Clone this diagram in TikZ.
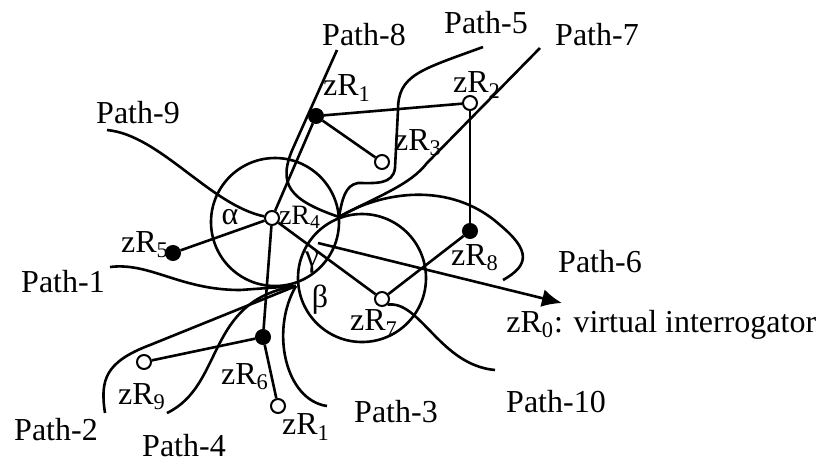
\documentclass[tikz,border=0pt]{standalone}
\usepackage{fontspec}
\setmainfont{Liberation Serif}
\usetikzlibrary{arrows.meta}
\begin{document}
\begin{tikzpicture}[x=0.5pt, y=-0.5pt, line width=1.3pt,
    tag/.style={circle, draw, fill=white, inner sep=0pt, minimum size=7pt, line width=1pt},
    tagf/.style={tag, fill=black},
    lbl/.style={font=\fontsize{16}{18}\selectfont, inner sep=1pt},
    zone/.style={circle, draw, inner sep=0pt, minimum size=64pt}]
    \useasboundingbox (0,0) rectangle (825,463);

    % Zones
    \node[zone] (ca) at (275,222) {};
    \node[zone] (cb) at (362,278) {};
    \node[lbl] (la) at (230,217) {α};
    \node[lbl] (lg) at (312,263) {γ};
    \node[lbl] (lb) at (320,300) {β};

    % Tags
    \node[tagf] (r1) at (316,116) {};
    \node[tag] (r2) at (470,103) {};
    \node[tag] (r3) at (382,162) {};
    \node[tag] (r4) at (272,218) {};
    \node[tagf] (r5) at (173,253) {};
    \node[tagf] (r6) at (263,337) {};
    \node[tag] (r7) at (382,299) {};
    \node[tagf] (r8) at (470,231) {};
    \node[tag] (r9) at (144,362) {};
    \node[tag] (r1b) at (278,406) {};

    % Tag names
    \node[lbl] (t1) at (347,88) {zR\textsubscript{1}};
    \node[lbl] (t2) at (477,85) {zR\textsubscript{2}};
    \node[lbl] (t3) at (418,143) {zR\textsubscript{3}};
    \node[lbl, font=\fontsize{14}{16}\selectfont] (t4) at (300,217) {zR\textsubscript{4}};
    \node[lbl] (t5) at (145,245) {zR\textsubscript{5}};
    \node[lbl] (t6) at (245,377) {zR\textsubscript{6}};
    \node[lbl] (t7) at (374,323) {zR\textsubscript{7}};
    \node[lbl] (t8) at (475,258) {zR\textsubscript{8}};
    \node[lbl] (t9) at (142,397) {zR\textsubscript{9}};
    \node[lbl] (t1b) at (306,427) {zR\textsubscript{1}};
    \node[lbl, anchor=west] (t0) at (503,325) {zR\textsubscript{0}: virtual interrogator};

    % Links
    \draw (r1) -- (r2);
    \draw (r1) -- (r3);
    \draw (r1) -- (r4);
    \draw (r2) -- (r8);
    \draw (r8) -- (r7);
    \draw (r4) -- (r7);
    \draw (r4) -- (r5);
    \draw (r4) -- (r6);
    \draw (r6) -- (r9);
    \draw (r6) -- (r1b);

    % Meeting points of the paths
    \coordinate (top) at (339,217);
    \coordinate (bot) at (296,286);

    % Path ends
    \coordinate (e1) at (110,267);
    \coordinate (e2) at (105,413);
    \coordinate (e3) at (327,406);
    \coordinate (e4) at (167,413);
    \coordinate (e5) at (483,47);
    \coordinate (e6) at (503,280);
    \coordinate (e7) at (540,48);
    \coordinate (e8) at (337,50);
    \coordinate (e9) at (107,130);
    \coordinate (e10) at (495,370);

    % Paths
    \draw (e8) -- (294,146) .. controls (276,185) and (290,200) .. (top);
    \draw (e5) .. controls (420,70) and (398,75) .. (398,110) -- (395,168)
        .. controls (393,185) and (375,183) .. (358,183) .. controls (345,185) and (342,200) .. (top);
    \draw (e7) -- (427,163) .. controls (410,185) and (380,195) .. (top);
    \draw (top) .. controls (380,192) and (450,180) .. (500,225) .. controls (530,250) and (530,265) .. (e6);
    \draw (e9) .. controls (160,135) and (210,205) .. (r4);
    \draw (e1) .. controls (150,262) and (180,290) .. (240,290) -- (bot);
    \draw (e2) .. controls (100,380) and (105,362) .. (150,345) -- (bot);
    \draw (e4) .. controls (225,385) and (205,300) .. (bot);
    \draw (e3) .. controls (285,400) and (270,330) .. (bot);
    \draw (r7.south east) .. controls (420,300) and (440,365) .. (e10);

    % Path names
    \node[lbl] (p1) at (63,282) {Path-1};
    \node[lbl] (p2) at (56,430) {Path-2};
    \node[lbl] (p3) at (396,412) {Path-3};
    \node[lbl] (p4) at (184,446) {Path-4};
    \node[lbl] (p5) at (486,23) {Path-5};
    \node[lbl] (p6) at (600,262) {Path-6};
    \node[lbl] (p7) at (597,35) {Path-7};
    \node[lbl] (p8) at (364,35) {Path-8};
    \node[lbl] (p9) at (138,113) {Path-9};
    \node[lbl] (p10) at (556,402) {Path-10};

    % Interrogator
    \coordinate (src) at (318,243);
    \coordinate (dst) at (562,303);
    \draw[-{Latex[length=10pt,width=9pt]}] (src) -- (dst);
\end{tikzpicture}
\end{document}
